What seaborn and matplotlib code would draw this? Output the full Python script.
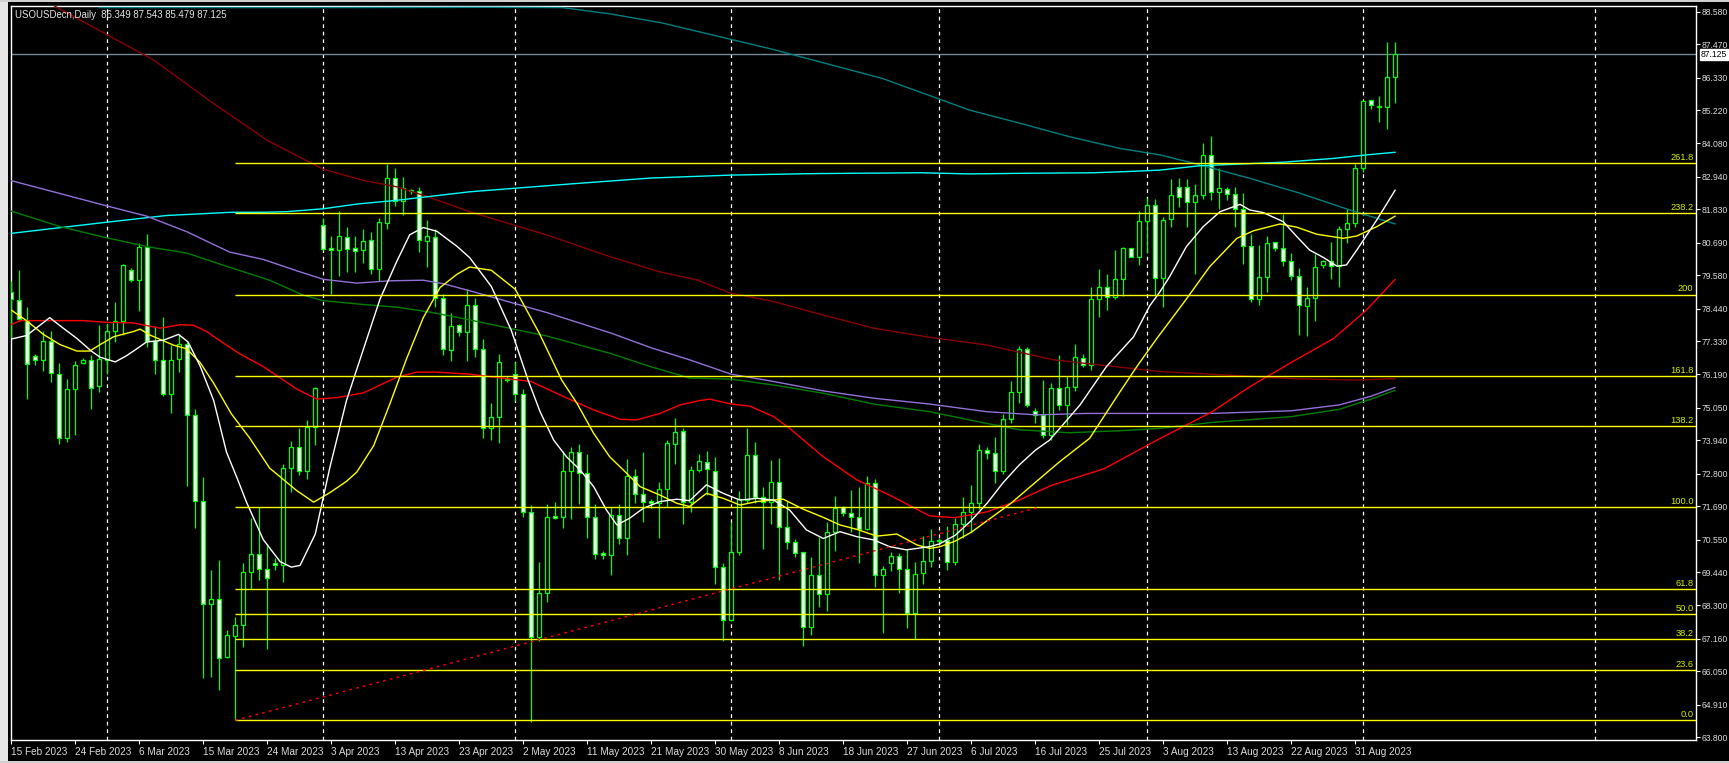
import numpy as np
import pandas as pd
import matplotlib
matplotlib.use("Agg")
import matplotlib.pyplot as plt
import matplotlib.transforms as mtransforms
from matplotlib.patches import Rectangle
import seaborn as sns

# ---------------- data (daily bars, index 0 = 15 Feb 2023) ----------------
opens = [79.01, 78.75, 78.03, 76.81, 76.67, 77.33, 76.22, 74.01, 75.68, 76.58,
         76.68, 75.78, 76.68, 77.69, 78.01, 79.77, 79.43, 80.56, 77.33, 76.67,
         75.54, 76.73, 77.22, 74.80, 71.86, 68.34, 68.51, 66.53, 67.26, 67.62,
         69.44, 70.06, 69.55, 69.75, 69.67, 72.99, 73.73, 72.91, 74.38, 81.29,
         80.51, 80.43, 80.88, 80.51, 80.43, 80.78, 79.80, 81.38, 82.90, 82.11,
         82.46, 82.45, 80.76, 80.90, 78.80, 77.01, 77.87, 77.64, 78.55, 77.05,
         74.35, 74.73, 76.05, 76.20, 75.51, 71.50, 67.24, 68.72, 71.36, 71.33,
         72.88, 73.53, 72.81, 71.31, 70.05, 70.01, 71.38, 70.62, 72.71, 72.10,
         71.86, 71.79, 72.27, 73.80, 74.25, 71.85, 72.92, 73.21, 72.88, 69.60,
         67.79, 70.12, 71.89, 73.43, 72.02, 71.82, 72.51, 70.97, 70.46, 70.12,
         67.55, 69.34, 68.69, 70.80, 71.65, 71.45, 71.33, 70.90, 72.47, 69.33,
         69.76, 69.98, 69.54, 68.03, 69.40, 69.82, 70.50, 70.55, 69.80, 71.10,
         71.50, 71.80, 73.60, 73.50, 72.90, 74.66, 75.60, 77.05, 74.93, 74.80,
         74.11, 75.72, 75.16, 75.75, 76.74, 76.50, 78.76, 79.17, 78.85, 79.44,
         80.50, 80.21, 81.43, 81.97, 79.50, 81.49, 82.58, 82.58, 82.07, 82.31,
         83.67, 82.41, 82.51, 82.34, 81.85, 80.59, 78.76, 79.53, 80.70, 80.52,
         80.07, 79.57, 78.53, 78.79, 79.92, 80.07, 79.88, 81.15, 81.35, 83.23,
         85.55, 85.37, 85.31, 86.349]
highs = [79.39, 79.75, 78.48, 76.89, 77.68, 77.66, 76.58, 76.03, 76.66, 76.77,
         76.86, 77.87, 77.92, 78.66, 79.98, 79.81, 80.68, 80.98, 77.83, 78.15,
         77.19, 77.54, 77.30, 75.01, 72.69, 69.52, 69.84, 67.48, 67.90, 69.75,
         71.29, 71.68, 70.39, 69.93, 73.12, 73.91, 74.35, 74.63, 75.75, 81.53,
         80.93, 81.77, 81.21, 80.93, 81.15, 81.06, 81.53, 83.37, 83.24, 82.95,
         82.52, 82.59, 81.47, 81.15, 78.93, 78.28, 77.90, 79.12, 78.80, 77.40,
         75.21, 76.90, 76.15, 76.60, 75.70, 71.73, 69.79, 71.77, 71.84, 73.57,
         73.73, 73.80, 73.47, 71.77, 70.15, 71.65, 71.77, 73.30, 72.96, 73.54,
         71.94, 72.51, 73.95, 74.70, 74.36, 73.07, 73.48, 73.57, 73.36, 69.76,
         71.14, 72.22, 74.36, 73.87, 72.36, 73.26, 73.33, 71.88, 70.56, 70.14,
         69.97, 70.63, 71.14, 72.04, 71.70, 72.25, 72.34, 72.72, 72.63, 69.65,
         70.12, 70.08, 70.22, 69.78, 70.68, 70.90, 70.60, 71.00, 71.30, 72.00,
         72.40, 73.80, 73.70, 74.07, 74.84, 75.98, 77.16, 77.12, 75.03, 76.00,
         75.91, 76.86, 76.14, 77.22, 76.88, 79.17, 79.78, 79.62, 80.44, 80.56,
         80.52, 81.77, 82.21, 82.18, 81.58, 82.86, 82.89, 82.86, 82.70, 84.08,
         84.34, 83.25, 82.60, 82.58, 82.38, 80.98, 80.60, 80.92, 80.73, 81.67,
         80.33, 79.82, 79.19, 80.29, 80.10, 80.70, 81.26, 81.83, 83.38, 85.57,
         85.57, 85.70, 87.53, 87.543]
lows = [77.45, 78.01, 75.34, 76.52, 76.30, 75.92, 73.82, 73.89, 74.13, 76.54,
        75.01, 75.58, 76.19, 77.30, 77.55, 79.36, 78.36, 77.13, 76.19, 75.45,
        74.88, 76.27, 72.39, 70.93, 65.81, 65.87, 65.43, 66.51, 64.38, 66.89,
        68.85, 69.16, 66.82, 69.52, 69.11, 72.19, 72.76, 72.63, 73.79, 80.44,
        78.94, 79.57, 79.70, 79.69, 79.99, 79.61, 79.39, 81.17, 81.96, 81.62,
        82.37, 80.38, 79.86, 78.51, 76.87, 76.64, 77.51, 76.64, 76.80, 74.01,
        73.95, 73.86, 75.95, 75.30, 71.33, 64.31, 67.10, 68.43, 71.24, 70.96,
        71.25, 71.78, 70.62, 69.89, 69.89, 69.34, 70.41, 70.03, 71.81, 71.16,
        71.64, 70.62, 71.68, 73.12, 71.08, 71.50, 72.87, 72.07, 69.03, 67.10,
        67.78, 70.03, 71.81, 71.81, 70.22, 71.08, 69.17, 70.22, 69.97, 66.92,
        67.29, 68.26, 68.12, 70.17, 71.37, 70.80, 69.76, 70.88, 68.94, 67.37,
        69.49, 68.74, 67.54, 67.14, 69.03, 69.60, 70.40, 69.50, 69.70, 70.60,
        70.80, 71.60, 73.30, 72.50, 72.80, 74.52, 75.23, 75.07, 74.52, 74.01,
        73.95, 74.98, 74.47, 75.63, 76.46, 76.34, 78.16, 78.39, 78.78, 78.88,
        80.19, 79.93, 80.33, 78.90, 78.48, 81.22, 81.92, 81.24, 79.62, 82.18,
        82.15, 81.83, 82.15, 81.24, 79.96, 78.68, 78.56, 78.99, 80.41, 79.91,
        79.40, 77.54, 77.52, 78.03, 79.84, 79.46, 79.19, 80.69, 81.22, 83.12,
        85.25, 84.83, 84.56, 85.479]
closes = [78.77, 78.07, 76.54, 76.68, 77.33, 76.23, 74.01, 75.68, 76.50, 76.68,
          75.74, 76.72, 77.69, 78.01, 79.92, 79.42, 80.56, 77.33, 76.68, 75.54,
          76.70, 77.22, 74.80, 71.86, 68.34, 68.51, 66.51, 67.28, 67.64, 69.44,
          70.06, 69.55, 69.24, 69.67, 72.99, 73.73, 72.91, 74.40, 75.73, 80.49,
          80.43, 80.92, 80.49, 80.40, 80.75, 79.80, 81.40, 82.90, 82.11, 82.55,
          82.45, 80.78, 80.92, 78.80, 77.06, 77.85, 77.64, 78.55, 77.05, 74.35,
          74.73, 76.60, 76.00, 75.51, 71.50, 67.24, 68.72, 71.31, 71.28, 72.88,
          73.53, 72.81, 71.33, 70.05, 70.04, 71.38, 70.62, 72.71, 72.10, 71.85,
          71.79, 72.28, 73.84, 74.21, 71.85, 72.92, 73.24, 72.95, 69.60, 67.79,
          70.12, 71.94, 73.43, 72.02, 71.82, 72.51, 70.97, 70.46, 70.08, 67.55,
          69.34, 68.69, 70.80, 71.62, 71.45, 71.33, 70.90, 72.47, 69.33, 69.54,
          69.98, 69.54, 68.03, 69.37, 69.82, 70.50, 70.55, 69.80, 71.10, 71.50,
          71.80, 73.60, 73.50, 72.90, 74.66, 75.60, 77.05, 75.16, 74.80, 74.11,
          75.72, 75.14, 75.77, 76.78, 76.50, 78.76, 79.17, 78.85, 79.44, 80.50,
          80.21, 81.43, 81.97, 79.50, 81.47, 82.31, 82.26, 82.07, 82.31, 83.67,
          82.41, 82.55, 82.34, 81.83, 80.59, 78.76, 79.53, 80.67, 80.52, 80.07,
          79.57, 78.55, 78.79, 79.87, 80.07, 79.88, 81.15, 81.35, 83.23, 85.52,
          85.39, 85.31, 86.34, 87.125]

date_labels = ["15 Feb 2023", "24 Feb 2023", "6 Mar 2023", "15 Mar 2023", "24 Mar 2023",
               "3 Apr 2023", "13 Apr 2023", "23 Apr 2023", "2 May 2023", "11 May 2023",
               "21 May 2023", "30 May 2023", "8 Jun 2023", "18 Jun 2023", "27 Jun 2023",
               "6 Jul 2023", "16 Jul 2023", "25 Jul 2023", "3 Aug 2023", "13 Aug 2023",
               "22 Aug 2023", "31 Aug 2023"]
label_bars = list(range(0, 169, 8))
month_start_bars = [12, 39, 63, 90, 116, 142, 169, 198]

price_ticks = [88.580, 87.470, 86.330, 85.220, 84.080, 82.940, 81.830, 80.690, 79.580,
               78.440, 77.330, 76.190, 75.050, 73.940, 72.800, 71.690, 70.550, 69.440,
               68.300, 67.160, 66.050, 64.910, 63.800]

fib_low, fib_high = 64.38, 71.65
fib_levels = [0.0, 23.6, 38.2, 50.0, 61.8, 100.0, 138.2, 161.8, 200.0, 238.2, 261.8]
fib_texts = ["0.0", "23.6", "38.2", "50.0", "61.8", "100.0", "138.2", "161.8", "200", "238.2", "261.8"]
fib_start_bar, fib_end_bar = 28, 128.4

# moving averages: (bar, value)
ma_white_x = [0, 1.9, 4.8, 6.5, 8.2, 10.0, 11.1, 13.0, 14.4, 15.7, 16.9, 19.0, 20.9, 22.1, 23.6,
              25.3, 26.9, 28.3, 29.4, 31.5, 33.6, 35.0, 36.1, 38.0, 39.8, 41.9, 44.0, 46.1, 48.2,
              49.8, 51.5, 53.2, 55.7, 57.3, 60.0, 62.5, 64.6, 66.1, 67.8, 69.4, 71.1, 72.8, 74.4,
              75.7, 77.3, 79.0, 81.1, 83.2, 84.8, 86.9, 89.0, 91.1, 93.2, 95.3, 97.3, 99.4, 101.5,
              103.6, 105.7, 107.8, 109.8, 111.9, 114.8, 116, 118, 120, 122, 124, 126, 128, 129.8,
              133.6, 136.9, 140.3, 142.3, 143.6, 144.8, 146.9, 149.0, 151.1, 153.6, 154.8, 156.5,
              159.0, 160.7, 162.3, 164.0, 165.7, 166.9, 168.2, 170.7, 173]
ma_white_y = [77.40, 77.52, 78.13, 77.77, 77.42, 76.99, 76.78, 76.62, 76.83, 77.07, 77.30, 77.36,
              77.56, 77.30, 76.48, 75.30, 73.54, 72.60, 71.83, 70.55, 69.80, 69.61, 69.67, 70.74,
              72.99, 75.30, 77.04, 78.77, 80.06, 80.96, 81.21, 81.08, 80.57, 80.18, 79.20, 77.70,
              76.00, 74.92, 73.95, 73.38, 72.93, 72.36, 71.56, 71.05, 71.28, 71.62, 71.85, 71.93,
              71.88, 72.42, 72.13, 71.90, 71.96, 71.90, 71.56, 70.88, 70.59, 70.82, 70.65, 70.54,
              70.31, 70.20, 70.31, 70.40, 70.70, 71.20, 71.80, 72.50, 73.10, 73.60, 73.95, 75.15,
              76.46, 77.48, 78.53, 79.02, 79.53, 80.56, 81.24, 81.75, 82.00, 81.81, 81.72, 81.41,
              80.90, 80.44, 80.19, 79.89, 79.93, 80.44, 81.47, 82.49]
ma_yellow_x = [0, 1.9, 4.0, 6.1, 8.2, 9.8, 11.1, 12.8, 15.3, 16.1, 17.3, 20.3, 21.9, 23.6, 25.3,
               27.5, 29.8, 32.3, 35.7, 37.8, 39.8, 41.9, 43.2, 45.3, 47.3, 49.4, 51.5, 53.6, 55.7,
               57.3, 60.0, 63.0, 66.0, 68.8, 70.7, 72.8, 74.8, 76.5, 78.6, 81.1, 83.2, 84.8, 86.9,
               89.0, 91.1, 93.2, 96.5, 99.0, 101.5, 103.6, 105.7, 108.2, 110.7, 113.2, 114.8, 116,
               118, 120, 122, 125, 128, 131, 134.8, 138.6, 140.7, 143.2, 146.5, 149.8, 153.2, 155.3,
               158.6, 160.7, 163.2, 166.5, 168.2, 170.7, 173]
ma_yellow_y = [78.39, 78.03, 77.56, 77.21, 76.99, 76.99, 77.21, 77.48, 77.66, 77.74, 77.54, 77.19,
               77.07, 76.60, 75.89, 74.85, 74.02, 72.99, 72.22, 71.83, 72.15, 72.54, 72.86, 73.76,
               75.17, 76.72, 78.13, 79.16, 79.61, 79.86, 79.75, 79.10, 77.60, 76.00, 75.21, 74.18,
               73.38, 72.93, 72.36, 72.07, 71.79, 71.68, 72.13, 71.96, 71.73, 71.85, 71.93, 71.59,
               71.31, 71.05, 70.90, 70.67, 70.74, 70.37, 70.25, 70.30, 70.50, 70.80, 71.20, 71.80,
               72.50, 73.20, 74.01, 75.60, 76.46, 77.42, 78.62, 79.87, 80.84, 81.10, 81.33, 81.22,
               80.98, 80.84, 80.92, 81.24, 81.60]
ma_red_x = [0, 1.1, 9.0, 11.9, 15.3, 18.6, 21.1, 22.8, 24.4, 26.9, 28.6, 31.5, 35.7, 38.2, 40.7,
            44.0, 46.5, 48.2, 50.7, 53.2, 57.3, 65.0, 68.6, 72.8, 76.1, 78.2, 81.1, 83.6, 86.1, 87.3,
            90.0, 92.3, 95.3, 97.3, 101.5, 105.7, 109.8, 114.8, 118, 122, 126, 130, 136.6, 143.5,
            150, 155, 160, 165.3, 169.4, 173]
ma_red_y = [77.89, 78.03, 78.03, 77.97, 77.95, 77.77, 77.89, 77.87, 77.66, 77.19, 76.89, 76.46,
            75.69, 75.35, 75.40, 75.56, 75.88, 76.10, 76.27, 76.27, 76.20, 75.95, 75.49, 74.98,
            74.66, 74.64, 74.86, 75.15, 75.30, 75.35, 75.18, 75.11, 74.75, 74.35, 73.38, 72.59,
            72.07, 71.36, 71.30, 71.50, 71.90, 72.40, 72.97, 73.99, 74.90, 75.80, 76.60, 77.42,
            78.39, 79.44]
ma_green_x = [0, 6.1, 11.9, 17.3, 21.9, 27.3, 32.3, 36.5, 39.0, 44.0, 48.2, 52.3, 56.5, 67, 75,
              80, 84.8, 90.0, 95.3, 101.5, 107.8, 114.8, 121.9, 126.1, 132.3, 138.6, 143.6, 150,
              160, 166, 170, 173]
ma_green_y = [81.77, 81.24, 80.86, 80.54, 80.34, 79.85, 79.41, 78.90, 78.71, 78.58, 78.49, 78.32,
              78.10, 77.50, 76.90, 76.45, 76.07, 76.03, 75.83, 75.55, 75.18, 74.92, 74.52, 74.30,
              74.20, 74.27, 74.35, 74.55, 74.75, 75.00, 75.35, 75.65]
ma_purple_x = [0, 11.9, 16.9, 21.9, 27.3, 31.5, 35.7, 39.0, 43.2, 47.3, 51.5, 54.0, 57.3, 67, 75,
               80, 84.8, 90.0, 95.3, 101.5, 107.8, 114.8, 121.9, 128.2, 134.4, 143.6, 150, 160,
               166, 170, 173]
ma_purple_y = [82.81, 81.95, 81.60, 81.07, 80.37, 80.12, 79.73, 79.44, 79.31, 79.39, 79.41, 79.29,
               79.05, 78.30, 77.60, 77.10, 76.69, 76.20, 75.95, 75.63, 75.38, 75.18, 74.92, 74.81,
               74.86, 74.86, 74.86, 74.95, 75.15, 75.45, 75.75]
ma_cyan_x = [0, 11.9, 19.4, 27.5, 31.5, 34.4, 39.0, 43.2, 48.2, 52.3, 57.3, 70, 80, 90, 100,
             113.6, 119.8, 126.1, 135.3, 139.4, 143.6, 148.6, 159, 165.3, 169.4, 173]
ma_cyan_y = [81.01, 81.39, 81.62, 81.73, 81.73, 81.75, 81.85, 82.01, 82.14, 82.27, 82.43, 82.70,
             82.90, 83.00, 83.05, 83.08, 83.04, 83.06, 83.08, 83.12, 83.17, 83.32, 83.44, 83.57,
             83.69, 83.78]
ma_maroon_x = [4, 5.5, 11.6, 17.8, 25, 32.1, 39.0, 44.0, 48.2, 52.3, 57.3, 67, 75, 81, 85.7, 89.8,
               95.3, 101.5, 107.8, 114.8, 121.9, 130.3, 138.6, 143.6, 150, 160, 168, 173]
ma_maroon_y = [89.00, 88.76, 87.85, 86.93, 85.50, 84.17, 83.20, 82.82, 82.60, 82.24, 81.75, 80.95,
               80.20, 79.70, 79.42, 78.98, 78.68, 78.22, 77.77, 77.46, 77.20, 76.69, 76.44, 76.29,
               76.20, 76.05, 76.00, 76.05]
ma_teal_x = [11, 38, 60, 68.9, 75, 81.3, 95.1, 108.9, 119.8, 126.1, 132.3, 138.6, 143.6, 148.6,
             154.8, 161.1, 167.3, 173]
ma_teal_y = [88.72, 88.72, 88.73, 88.72, 88.50, 88.20, 87.30, 86.30, 85.22, 84.77, 84.31, 83.91,
             83.69, 83.35, 82.89, 82.38, 81.81, 81.33]

title_text = "USOUSDecn,Daily  86.349 87.543 85.479 87.125"
last_price = 87.125

# ---------------- drawing ----------------
sns.set_theme(style="dark")
plt.rcParams['font.family'] = ['Liberation Sans', 'DejaVu Sans']

W, H = 1729, 763
fig = plt.figure(figsize=(W / 100, H / 100), dpi=100, facecolor='black')
L, R, T, B = 10.7, 1696, 6, 740.3
ax = fig.add_axes([L / W, 1 - B / H, (R - L) / W, (B - T) / H])
ax.set_facecolor('black')
ax.grid(False)
XMIN, XMAX = -0.075, 210.6
ax.set_xlim(XMIN, XMAX)
ax.set_ylim(63.696, 88.775)

# month grid
for mb in month_start_bars:
    ax.axvline(mb, color='white', lw=0.9, linestyle=(0, (3, 3)), zorder=1)

# bid line
ax.axhline(last_price, color='#778899', lw=1, zorder=1.5)

# candles
o = np.array(opens); c = np.array(closes); h = np.array(highs); l = np.array(lows)
xs = np.arange(len(o))
bull = c >= o
ax.vlines(xs, l, h, color='#00ff00', lw=0.9, zorder=3)
bottoms = np.minimum(o, c)
heights = np.maximum(np.abs(c - o), 0.05)
ax.bar(xs, heights, bottom=bottoms, width=0.55,
       color=np.where(bull, 'black', 'white'), edgecolor='#00ff00', linewidth=0.9, zorder=4)

# moving averages
ma_specs = [
    (ma_teal_x, ma_teal_y, '#008080'),
    (ma_maroon_x, ma_maroon_y, '#8b0000'),
    (ma_cyan_x, ma_cyan_y, '#00ffff'),
    (ma_purple_x, ma_purple_y, '#9370db'),
    (ma_green_x, ma_green_y, '#008000'),
    (ma_red_x, ma_red_y, '#ff0000'),
    (ma_yellow_x, ma_yellow_y, '#ffff00'),
    (ma_white_x, ma_white_y, '#ffffff'),
]
for mx, my, col in ma_specs:
    sns.lineplot(x=mx, y=my, ax=ax, color=col, linewidth=1.0, estimator=None, sort=False, zorder=5)

# fibonacci levels
blend = mtransforms.blended_transform_factory(ax.transAxes, ax.transData)
for lev, txt in zip(fib_levels, fib_texts):
    price = fib_low + (fib_high - fib_low) * lev / 100.0
    ax.hlines(price, fib_start_bar, XMAX, color='#ffff00', lw=1.0, zorder=6)
    ax.text(0.9985, price + 0.04, txt, transform=blend, ha='right', va='bottom',
            color='#d8f000', fontsize=6.7, zorder=7)
ax.plot([fib_start_bar, fib_end_bar], [fib_low, fib_high], color='#ff0000', lw=1,
        linestyle=(0, (2, 3)), zorder=6)

# axes, ticks
for s in ax.spines.values():
    s.set_visible(True)
    s.set_color('white')
    s.set_linewidth(1)
ax.yaxis.tick_right()
ax.set_yticks(price_ticks)
ax.set_yticklabels([f"{v:.3f}" for v in price_ticks])
ax.tick_params(axis='y', which='both', right=True, left=False, direction='out', length=3,
               width=0.8, color='white', labelcolor='#dcdcdc', labelsize=6.2, pad=1.2)
ax.set_xticks(label_bars)
ax.set_xticklabels(date_labels)
for lbl in ax.get_xticklabels():
    lbl.set_horizontalalignment('left')
ax.tick_params(axis='x', which='both', bottom=True, top=False, direction='out', length=3,
               width=0.8, color='white', labelcolor='#dcdcdc', labelsize=7.2, pad=1.5)
ax.set_xlabel('')
ax.set_ylabel('')

# last price box
ax.text(1.0028, last_price, f"{last_price:.3f}", transform=blend, ha='left', va='center',
        fontsize=6.2, color='black', zorder=8, clip_on=False,
        bbox=dict(boxstyle='square,pad=0.08', fc='white', ec='white'))

# chart shift marker
ax.plot([168.2], [0.988], marker='v', markersize=5, color='#909090', transform=blend,
        clip_on=False, zorder=8)

# title
fig.text(15 / W, 1 - 15.5 / H, title_text, color='#e6e6e6', fontsize=6.9, ha='left', va='center')

# window frame strips
fig.add_artist(Rectangle((0, 0), 8 / W, 1, transform=fig.transFigure, facecolor='#e6e6e6',
                         edgecolor='none', zorder=0))
fig.add_artist(Rectangle((0, 1 - 2 / H), 1, 2 / H, transform=fig.transFigure, facecolor='#d0d0d0',
                         edgecolor='none', zorder=0))
fig.add_artist(Rectangle((0, 0), 1, 2 / H, transform=fig.transFigure, facecolor='#d0d0d0',
                         edgecolor='none', zorder=0))

fig.savefig('out.png', dpi=100, facecolor='black')
